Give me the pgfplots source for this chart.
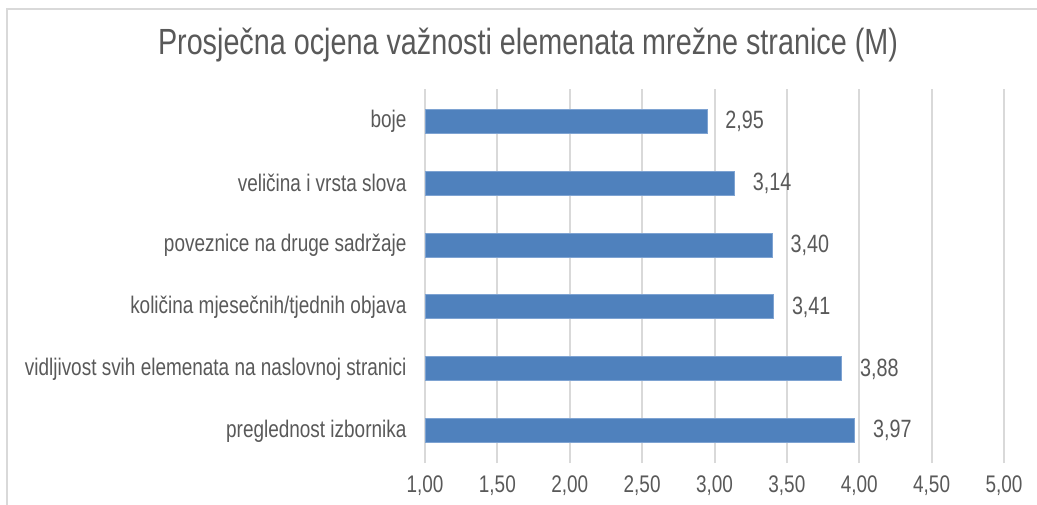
\documentclass[border=0pt]{standalone}
\usepackage{fontspec}
\setmainfont{Liberation Sans}
\newfontfamily\cf[FakeStretch=0.79]{Liberation Sans}
\usepackage{pgfplots}
\pgfplotsset{compat=1.18}
\definecolor{barblue}{HTML}{4F81BD}
\definecolor{baredge}{HTML}{7EA3D2}
\definecolor{txtgray}{HTML}{595959}
\definecolor{gridgray}{HTML}{D9D9D9}

\begin{document}
\begin{tikzpicture}
\path[use as bounding box] (0,0) rectangle (518.5pt,252pt);
\draw[gridgray, line width=0.9pt] (3.5pt,-5pt) -- (3.5pt,247.5pt) -- (530pt,247.5pt);
\begin{axis}[
  at={(212.5pt,20.5pt)}, anchor=south west,
  scale only axis, width=289.5pt, height=187pt,
  xbar, bar width=12pt,
  xmin=1, xmax=5, ymin=-0.52, ymax=5.52,
  xtick={1,1.5,2,2.5,3,3.5,4,4.5,5},
  xticklabel={\pgfmathprintnumber[fixed,fixed zerofill,precision=2,use comma]{\tick}},
  ytick={0,1,2,3,4,5},
  yticklabels={preglednost izbornika, vidljivost svih elemenata na naslovnoj stranici, količina mjesečnih/tjednih objava, poveznice na druge sadržaje, veličina i vrsta slova, boje},
  xmajorgrids, grid style={gridgray, line width=1pt},
  axis line style={draw=none},
  tick style={draw=none},
  /pgf/number format/assume math mode=true,
  xticklabel style={font=\cf\fontsize{12}{14}\selectfont, text=txtgray, yshift=-3pt},
  yticklabel style={font=\cf\fontsize{12}{14}\selectfont, text=txtgray, xshift=-1.5pt},
  nodes near coords={\pgfmathprintnumber[fixed,fixed zerofill,precision=2,use comma]{\pgfplotspointmeta}},
  point meta=x,
  every node near coord/.append style={font=\cf\fontsize{12.5}{14}\selectfont, text=txtgray, xshift=5.5pt},
]
\addplot[fill=barblue, draw=baredge, line width=0.5pt] coordinates {
  (3.97,0)
  (3.88,1)
  (3.41,2)
  (3.40,3)
  (3.14,4)
  (2.95,5)
};
\end{axis}
\node[font=\cf\fontsize{18.2}{22}\selectfont, text=txtgray] at (264pt,229.5pt) {Prosječna ocjena važnosti elemenata mrežne stranice (M)};
\end{tikzpicture}
\end{document}
